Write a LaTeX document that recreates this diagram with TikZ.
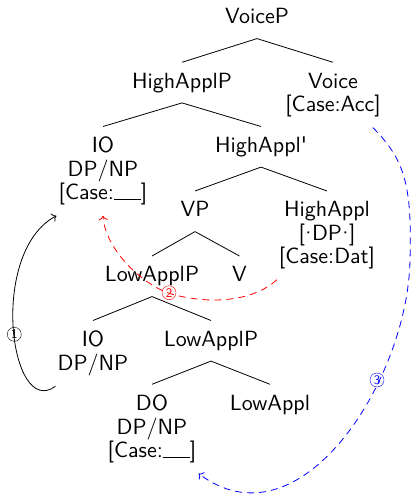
\documentclass[tikz,border=0pt]{standalone}
\usepackage{fontspec}
\usetikzlibrary{arrows.meta}
\newfontfamily\treefont[Extension=.otf]{lmsans10-regular}
\begin{document}
\begin{tikzpicture}[x=1pt,y=-1pt,
  lbl/.style={anchor=north, align=center, inner xsep=2pt, inner ysep=10.3pt,
    font=\treefont\fontsize{22}{23.5}\selectfont},
  one/.style={lbl, text height=15.3pt, text depth=4.3pt},
  branch/.style={line width=0.8pt},
  move/.style={line width=0.8pt, -{To[scale=1.3]}},
  dashmove/.style={move, dash pattern=on 7pt off 5pt},
  step num/.style={circle, draw, inner sep=0pt, minimum size=14pt,
    font=\treefont\fontsize{13}{13}\selectfont}]
\useasboundingbox (0,0) rectangle (412,494);
\newcommand{\blank}{\rule[-0.3pt]{27pt}{1.3pt}}
\newcommand{\tdot}{\kern-5pt·\kern-5pt}

% tree nodes
\node[one] (voicep) at (257,-2) {VoiceP};
\node[one] (highapplp) at (182,62.3) {HighApplP};
\node[lbl] (voice) at (333,62.3) {Voice\\{}[Case:Acc]};
\node[lbl] (ioup) at (103,126.5) {IO\\DP/NP\\{}[Case:\blank]};
\node[one] (highapplbar) at (261,126.5) {HighAppl'};
\node[one] (vp) at (195,191) {VP};
\node[lbl] (highappl) at (327,191) {HighAppl\\{}[\tdot DP\tdot]\\{}[Case:Dat]};
\node[one] (lowapplp) at (152,256) {LowApplP};
\node[one] (v) at (239.5,256) {V};
\node[lbl] (iolow) at (93,320.5) {IO\\DP/NP};
\node[one] (lowapplpb) at (211,320.5) {LowApplP};
\node[lbl] (do) at (152,384.3) {DO\\DP/NP\\{}[Case:\blank]};
\node[one] (lowappl) at (270,384.3) {LowAppl};

% branches
\draw[branch] (voicep.south) -- (highapplp.north);
\draw[branch] (voicep.south) -- (voice.north);
\draw[branch] (highapplp.south) -- (ioup.north);
\draw[branch] (highapplp.south) -- (highapplbar.north);
\draw[branch] (highapplbar.south) -- (vp.north);
\draw[branch] (highapplbar.south) -- (highappl.north);
\draw[branch] (vp.south) -- (lowapplp.north);
\draw[branch] (vp.south) -- (v.north);
\draw[branch] (lowapplp.south) -- (iolow.north);
\draw[branch] (lowapplp.south) -- (lowapplpb.north);
\draw[branch] (lowapplpb.south) -- (do.north);
\draw[branch] (lowapplpb.south) -- (lowappl.north);

% movement 1: low IO to high IO
\draw[move] (iolow.south west) .. controls (10,420) and (-12,252) .. (ioup.south west);
\node[step num] (n1) at (14.3,334.3) {1};

% movement 2: dative case from HighAppl
\draw[dashmove, red] (highappl.south west) .. controls (255,300) and (215,305) .. (175,295)
  .. controls (145,288) and (105,250) .. (ioup.south);
\node[step num, red] (n2) at (169,292.7) {2};

% movement 3: accusative case from Voice
\draw[dashmove, blue] ([xshift=-10pt]voice.south east) .. controls (405,160) and (412,185) .. (410,260)
  .. controls (408,380) and (300,550) .. (do.south east);
\node[step num, blue] (n3) at (377,380) {3};
\end{tikzpicture}
\end{document}
